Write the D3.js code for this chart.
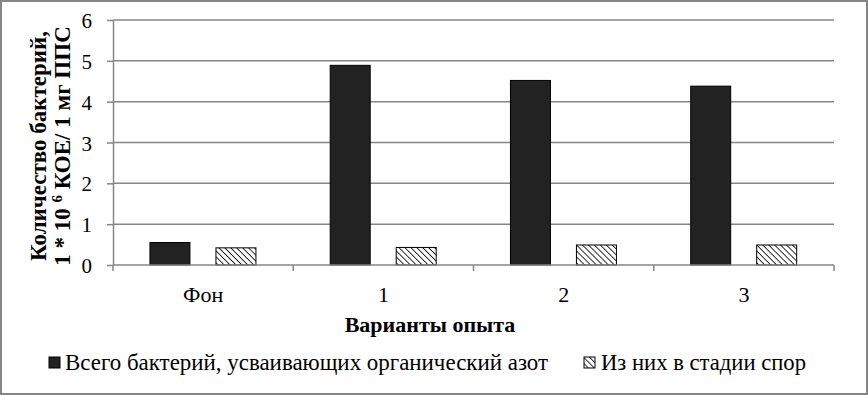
<!DOCTYPE html>
<html>
<head>
<meta charset="utf-8">
<script src="https://cdn.jsdelivr.net/npm/d3@7/dist/d3.min.js"></script>
<style>
  html, body { margin: 0; padding: 0; background: #fff; }
  svg { display: block; }
  svg text { font-family: "Liberation Serif", "Times New Roman", serif; fill: #000; }
</style>
</head>
<body>
<svg id="chart" width="868" height="395"></svg>
<script>
const categories = ["Фон", "1", "2", "3"];
const seriesNames = ["Всего бактерий, усваивающих органический азот", "Из них в стадии спор"];
const totalBacteria = [0.55, 4.89, 4.52, 4.38];
const sporeBacteria = [0.42, 0.43, 0.49, 0.49];
const yTicks = [0, 1, 2, 3, 4, 5, 6];
const xTitle = "Варианты опыта";
const yTitleLine1 = "Количество бактерий,";

const W = 868, H = 395;
const plot = { left: 113, right: 834, top: 20, bottom: 265 };
const gridColor = "#868686";

const svg = d3.select("#chart");
svg.append("rect").attr("x", 1).attr("y", 1).attr("width", W - 2).attr("height", H - 2)
  .attr("fill", "#fff").attr("stroke", gridColor).attr("stroke-width", 2);

const defs = svg.append("defs");
const pat = defs.append("pattern").attr("id", "hatch").attr("patternUnits", "userSpaceOnUse")
  .attr("width", 4.2).attr("height", 4.2).attr("patternTransform", "rotate(-45)");
pat.append("rect").attr("width", 4.2).attr("height", 4.2).attr("fill", "#fff");
pat.append("line").attr("x1", 0).attr("y1", 0).attr("x2", 0).attr("y2", 4.2)
  .attr("stroke", "#000").attr("stroke-width", 1.6);

const x = d3.scaleBand().domain(categories).range([plot.left, plot.right]).padding(0);
const xs = d3.scaleBand().domain([0, 1])
  .range([x.bandwidth() * 0.205, x.bandwidth() * 0.793]).paddingInner(0.394);
const y = d3.scaleLinear().domain([0, 6]).range([plot.bottom, plot.top]);

// gridlines
svg.append("g").selectAll("line").data(yTicks.filter(d => d > 0)).join("line")
  .attr("x1", plot.left).attr("x2", plot.right)
  .attr("y1", d => y(d)).attr("y2", d => y(d))
  .attr("stroke", gridColor).attr("stroke-width", 1.5);

// y axis
const yAxis = svg.append("g").attr("transform", `translate(${plot.left},0)`)
  .call(d3.axisLeft(y).tickValues(yTicks).tickFormat(d3.format("d")).tickSizeInner(6).tickSizeOuter(0).tickPadding(15));
yAxis.attr("font-family", null).attr("font-size", null);
yAxis.select(".domain").attr("stroke", gridColor).attr("stroke-width", 1.5);
yAxis.selectAll(".tick line").attr("stroke", gridColor).attr("stroke-width", 1.5);
yAxis.selectAll(".tick text").attr("font-size", 21).attr("fill", "#000").attr("dy", "0.36em");

// bars
const data = categories.map((c, i) => ({ c, vals: [totalBacteria[i], sporeBacteria[i]] }));
const g = svg.append("g").selectAll("g").data(data).join("g")
  .attr("transform", d => `translate(${x(d.c)},0)`);
g.selectAll("rect").data(d => d.vals.map((v, k) => ({ v, k }))).join("rect")
  .attr("x", d => xs(d.k)).attr("width", xs.bandwidth())
  .attr("y", d => y(d.v)).attr("height", d => y(0) - y(d.v))
  .attr("fill", d => d.k === 0 ? "#222" : "url(#hatch)")
  .attr("stroke", "#000").attr("stroke-width", 1);

// x axis
const xb = d3.scaleLinear().domain([0, categories.length]).range([plot.left, plot.right]);
const xAxis = svg.append("g").attr("transform", `translate(0,${plot.bottom})`);
xAxis.append("line").attr("x1", plot.left).attr("x2", plot.right).attr("y1", 0).attr("y2", 0)
  .attr("stroke", gridColor).attr("stroke-width", 1.5);
xAxis.selectAll("line.tk").data(d3.range(categories.length + 1)).join("line").attr("class", "tk")
  .attr("x1", d => xb(d)).attr("x2", d => xb(d)).attr("y1", 0).attr("y2", 6)
  .attr("stroke", gridColor).attr("stroke-width", 1.5);
xAxis.selectAll("text").data(categories).join("text")
  .attr("x", d => x(d) + x.bandwidth() / 2).attr("y", 37)
  .attr("text-anchor", "middle").attr("font-size", 22).text(d => d);

// x title
svg.append("text").attr("x", 430).attr("y", 332).attr("text-anchor", "middle")
  .attr("font-size", 22).attr("font-weight", "bold").text(xTitle);

// y title
const yt = svg.append("g").attr("transform", "translate(0,146) rotate(-90)");
yt.append("text").attr("x", 0).attr("y", 46).attr("text-anchor", "middle")
  .attr("font-size", 23).attr("font-weight", "bold").text(yTitleLine1);
const l2 = yt.append("text").attr("x", 0).attr("y", 70).attr("text-anchor", "middle")
  .attr("font-size", 23).attr("font-weight", "bold");
l2.append("tspan").text("1 * 10 ");
l2.append("tspan").attr("font-size", 15).attr("dy", -8).text("6");
l2.append("tspan").attr("dy", 8).text(" КОЕ/ 1 мг ППС");

// legend
const legend = [
  { name: seriesNames[0], mx: 49, tx: 65, len: 483, fill: "#222" },
  { name: seriesNames[1], mx: 584, tx: 601, len: 205, fill: "url(#hatch)" }
];
const lg = svg.append("g").selectAll("g").data(legend).join("g");
lg.append("rect").attr("x", d => d.mx).attr("y", 357).attr("width", 11).attr("height", 11)
  .attr("fill", d => d.fill).attr("stroke", "#000").attr("stroke-width", 1);
lg.append("text").attr("x", d => d.tx).attr("y", 370).attr("font-size", 23)
  .attr("textLength", d => d.len).attr("lengthAdjust", "spacingAndGlyphs").text(d => d.name);
</script>
</body>
</html>
